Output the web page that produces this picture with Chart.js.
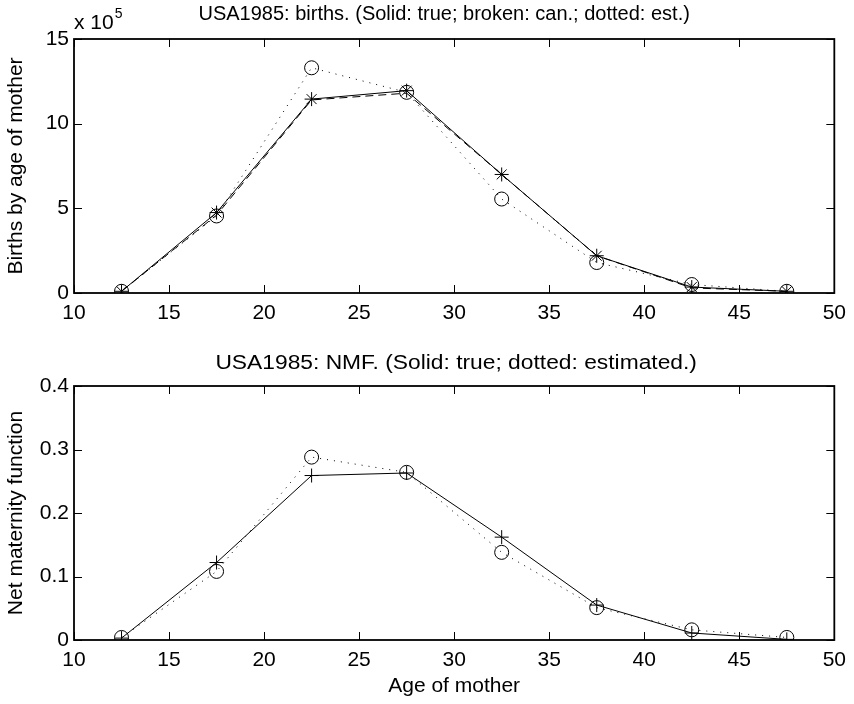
<!DOCTYPE html>
<html>
<head>
<meta charset="utf-8">
<title>USA1985 births and NMF</title>
<script src="https://cdn.jsdelivr.net/npm/chart.js@4"></script>
<style>
  html, body { margin: 0; padding: 0; background: #fff; }
  #wrap { position: relative; width: 854px; height: 704px; }
  canvas { display: block; }
</style>
</head>
<body>
<div id="wrap">
  <canvas id="births-chart" width="854" height="352"></canvas>
  <canvas id="nmf-chart" width="854" height="352"></canvas>
</div>
<script>
// Age group midpoints (x values)
const ages = [12.5, 17.5, 22.5, 27.5, 32.5, 37.5, 42.5, 47.5];

// Births by age of mother, in units of 10^5
const birthsTrue = [0.1, 4.75, 11.45, 11.95, 7.0, 2.2, 0.35, 0.1];
const birthsCanonical = [0.1, 4.6, 11.4, 11.8, 7.0, 2.2, 0.3, 0.1];
const birthsEstimated = [0.1, 4.55, 13.3, 11.85, 5.55, 1.8, 0.5, 0.1];

// Net maternity function
const nmfTrue = [0.003, 0.122, 0.259, 0.263, 0.162, 0.055, 0.011, 0.001];
const nmfEstimated = [0.004, 0.108, 0.288, 0.264, 0.138, 0.051, 0.016, 0.004];

// Axis ticks
const xTicks = [10, 15, 20, 25, 30, 35, 40, 45, 50];
const birthsTicks = [0, 5, 10, 15];
const nmfTicks = [0, 0.1, 0.2, 0.3, 0.4];

const FONT = "'Liberation Sans', Arial, Helvetica, sans-serif";

function toPoints(values) {
    return ages.map((x, i) => ({ x: x, y: values[i] }));
}

/**
 * Draws the MATLAB-style box, inward ticks, title and exponent label
 */
const matlabAxes = {
    id: 'matlabAxes',
    afterDraw(chart, args, opts) {
        const ctx = chart.ctx;
        const area = chart.chartArea;
        const xs = chart.scales.x;
        const ys = chart.scales.y;
        const tickLen = 8;

        ctx.save();
        ctx.strokeStyle = '#000';
        ctx.lineWidth = 1;
        ctx.beginPath();
        xs.ticks.forEach(t => {
            const px = Math.round(xs.getPixelForValue(t.value)) + 0.5;
            ctx.moveTo(px, area.bottom);
            ctx.lineTo(px, area.bottom - tickLen);
            ctx.moveTo(px, area.top);
            ctx.lineTo(px, area.top + tickLen);
        });
        ys.ticks.forEach(t => {
            const py = Math.round(ys.getPixelForValue(t.value)) + 0.5;
            ctx.moveTo(area.left, py);
            ctx.lineTo(area.left + tickLen, py);
            ctx.moveTo(area.right, py);
            ctx.lineTo(area.right - tickLen, py);
        });
        ctx.stroke();

        // Axes box
        ctx.lineWidth = 1.8;
        ctx.strokeRect(area.left, area.top, area.right - area.left, area.bottom - area.top);

        // Title centred over the axes (slightly widened like the original print)
        ctx.fillStyle = '#000';
        ctx.font = '20px ' + FONT;
        ctx.textAlign = 'center';
        ctx.textBaseline = 'middle';
        ctx.save();
        ctx.translate((area.left + area.right) / 2 + opts.titleShift, opts.titleY);
        ctx.scale(opts.titleStretch, 1);
        ctx.fillText(opts.title, 0, 0);
        ctx.restore();

        // Exponent label (x 10^5)
        if (opts.exponent) {
            ctx.textAlign = 'left';
            ctx.textBaseline = 'alphabetic';
            ctx.font = '21px ' + FONT;
            ctx.fillText('x 10', area.left, 29);
            const w = ctx.measureText('x 10').width;
            ctx.font = '14px ' + FONT;
            ctx.fillText(opts.exponent, area.left + w + 1, 18);
        }
        ctx.restore();
    }
};

function makeOptions(cfg) {
    return {
        responsive: false,
        animation: false,
        layout: { padding: { left: 0, right: 16, top: cfg.top, bottom: 0 } },
        plugins: {
            legend: { display: false },
            tooltip: { enabled: false },
            matlabAxes: {
                title: cfg.title,
                titleY: cfg.titleY,
                titleShift: cfg.titleShift,
                titleStretch: cfg.titleStretch,
                exponent: cfg.exponent
            }
        },
        scales: {
            x: {
                type: 'linear',
                min: 10,
                max: 50,
                grid: { display: false, drawTicks: false },
                border: { display: false },
                afterBuildTicks: scale => { scale.ticks = xTicks.map(v => ({ value: v })); },
                afterFit: scale => { scale.height = cfg.xHeight; },
                ticks: {
                    color: '#000',
                    padding: 8,
                    maxRotation: 0,
                    font: { family: FONT, size: 21 }
                },
                title: {
                    display: !!cfg.xTitle,
                    text: cfg.xTitle || '',
                    color: '#000',
                    padding: { top: 0, bottom: 5 },
                    font: { family: FONT, size: 21 }
                }
            },
            y: {
                type: 'linear',
                min: cfg.yTicks[0],
                max: cfg.yTicks[cfg.yTicks.length - 1],
                grid: { display: false, drawTicks: false },
                border: { display: false },
                afterBuildTicks: scale => { scale.ticks = cfg.yTicks.map(v => ({ value: v })); },
                afterFit: scale => { scale.width = 74; },
                ticks: {
                    color: '#000',
                    padding: 5,
                    font: { family: FONT, size: 21 },
                    callback: v => String(Math.round(v * 10) / 10)
                },
                title: {
                    display: true,
                    text: cfg.yTitle,
                    color: '#000',
                    padding: { top: 4, bottom: 0 },
                    font: { family: FONT, size: 21 }
                }
            }
        }
    };
}

const lineBase = {
    borderColor: '#000',
    borderWidth: 1,
    pointBorderColor: '#000',
    pointBackgroundColor: 'rgba(0,0,0,0)',
    pointBorderWidth: 1,
    tension: 0,
    fill: false
};

new Chart(document.getElementById('births-chart'), {
    type: 'line',
    data: {
        datasets: [
            Object.assign({}, lineBase, {
                label: 'estimated',
                data: toPoints(birthsEstimated),
                borderDash: [1, 6],
                pointStyle: 'circle',
                pointRadius: 7
            }),
            Object.assign({}, lineBase, {
                label: 'canonical',
                data: toPoints(birthsCanonical),
                borderDash: [8, 5],
                pointRadius: 0
            }),
            Object.assign({}, lineBase, {
                label: 'true',
                data: toPoints(birthsTrue),
                pointStyle: 'star',
                pointRadius: 7
            })
        ]
    },
    options: makeOptions({
        top: 39,
        xHeight: 59,
        title: 'USA1985: births. (Solid: true; broken: can.; dotted: est.)',
        titleY: 14,
        titleShift: -10,
        titleStretch: 1,
        exponent: '5',
        yTitle: 'Births by age of mother',
        yTicks: birthsTicks
    }),
    plugins: [matlabAxes]
});

new Chart(document.getElementById('nmf-chart'), {
    type: 'line',
    data: {
        datasets: [
            Object.assign({}, lineBase, {
                label: 'estimated',
                data: toPoints(nmfEstimated),
                borderDash: [1, 6],
                pointStyle: 'circle',
                pointRadius: 7
            }),
            Object.assign({}, lineBase, {
                label: 'true',
                data: toPoints(nmfTrue),
                pointStyle: 'cross',
                pointRadius: 7
            })
        ]
    },
    options: makeOptions({
        top: 34,
        xHeight: 64,
        title: 'USA1985: NMF. (Solid: true; dotted: estimated.)',
        titleY: 11,
        titleShift: 2,
        titleStretch: 1.14,
        xTitle: 'Age of mother',
        yTitle: 'Net maternity function',
        yTicks: nmfTicks
    }),
    plugins: [matlabAxes]
});
</script>
</body>
</html>
